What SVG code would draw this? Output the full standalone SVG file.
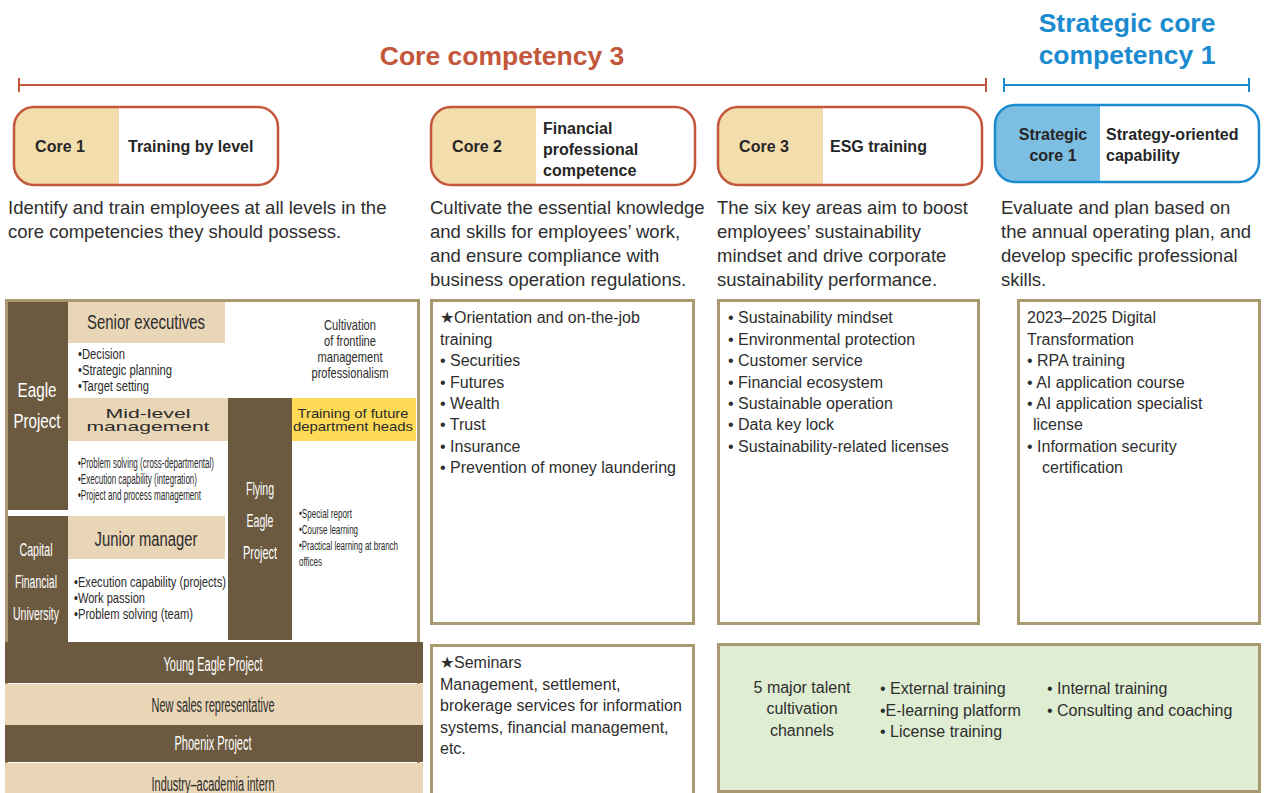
<svg xmlns="http://www.w3.org/2000/svg" width="1264" height="793" viewBox="0 0 1264 793">
  <style>
    text { font-family: "Liberation Sans", Arial, sans-serif; fill: #2b2b2b; }
    .title-red { font-size: 26.5px; font-weight: bold; fill: #C2573B; }
    .title-blue { font-size: 26.5px; font-weight: bold; fill: #1B8BD0; }
    .pill-txt { font-size: 16px; font-weight: bold; fill: #262626; }
    .desc { font-size: 18.5px; fill: #2e2e2e; }
    .list { font-size: 16px; }
    .list text { fill: #2e2e2e; }
    .box { fill: #fff; stroke: #A89A6E; stroke-width: 3; }
    .dark { fill: #6B5A40; }
    .tan { fill: #E9D6B7; }
    text.wt, .wt text { fill: #fff; }
  </style>

  <!-- headings and range brackets -->
  <g id="heading-core">
    <text class="title-red" x="502" y="65" text-anchor="middle">Core competency 3</text>
    <g stroke="#C2573B" stroke-width="2">
      <line x1="19" y1="85" x2="986" y2="85"/>
      <line x1="19" y1="78" x2="19" y2="92"/>
      <line x1="986" y1="78" x2="986" y2="92"/>
    </g>
  </g>
  <g id="heading-strategic">
    <text class="title-blue" x="1127" y="32" text-anchor="middle">Strategic core</text>
    <text class="title-blue" x="1127" y="64" text-anchor="middle">competency 1</text>
    <g stroke="#1B8BD0" stroke-width="2">
      <line x1="1004" y1="85" x2="1249" y2="85"/>
      <line x1="1004" y1="78" x2="1004" y2="92"/>
      <line x1="1249" y1="78" x2="1249" y2="92"/>
    </g>
  </g>

  <defs>
    <clipPath id="c1"><rect x="14" y="107" width="264" height="78" rx="20"/></clipPath>
    <clipPath id="c2"><rect x="431" y="107" width="264" height="78" rx="20"/></clipPath>
    <clipPath id="c3"><rect x="718" y="107" width="264" height="78" rx="20"/></clipPath>
    <clipPath id="c4"><rect x="995" y="105" width="264" height="77" rx="20"/></clipPath>
  </defs>

  <!-- category pills -->
  <g id="pill-core1">
    <rect x="14" y="107" width="264" height="78" rx="20" fill="#fff"/>
    <rect x="14" y="107" width="105" height="78" fill="#F4DDAD" clip-path="url(#c1)"/>
    <rect x="14" y="107" width="264" height="78" rx="20" fill="none" stroke="#C2573B" stroke-width="2.5"/>
    <text class="pill-txt" x="60" y="152" text-anchor="middle">Core 1</text>
    <text class="pill-txt" x="128" y="152">Training by level</text>
  </g>
  <g id="pill-core2">
    <rect x="431" y="107" width="264" height="78" rx="20" fill="#fff"/>
    <rect x="431" y="107" width="105" height="78" fill="#F4DDAD" clip-path="url(#c2)"/>
    <rect x="431" y="107" width="264" height="78" rx="20" fill="none" stroke="#C2573B" stroke-width="2.5"/>
    <text class="pill-txt" x="477" y="152" text-anchor="middle">Core 2</text>
    <text class="pill-txt" x="543" y="134">Financial</text>
    <text class="pill-txt" x="543" y="155">professional</text>
    <text class="pill-txt" x="543" y="176">competence</text>
  </g>
  <g id="pill-core3">
    <rect x="718" y="107" width="264" height="78" rx="20" fill="#fff"/>
    <rect x="718" y="107" width="105" height="78" fill="#F4DDAD" clip-path="url(#c3)"/>
    <rect x="718" y="107" width="264" height="78" rx="20" fill="none" stroke="#C2573B" stroke-width="2.5"/>
    <text class="pill-txt" x="764" y="152" text-anchor="middle">Core 3</text>
    <text class="pill-txt" x="830" y="152">ESG training</text>
  </g>
  <g id="pill-strategic1">
    <rect x="995" y="105" width="264" height="77" rx="20" fill="#fff"/>
    <rect x="995" y="105" width="105" height="77" fill="#7DBFE3" clip-path="url(#c4)"/>
    <rect x="995" y="105" width="264" height="77" rx="20" fill="none" stroke="#1B8BD0" stroke-width="2.5"/>
    <text class="pill-txt" x="1053" y="140" text-anchor="middle">Strategic</text>
    <text class="pill-txt" x="1053" y="161" text-anchor="middle">core 1</text>
    <text class="pill-txt" x="1106" y="140">Strategy-oriented</text>
    <text class="pill-txt" x="1106" y="161">capability</text>
  </g>

  <!-- descriptions -->
  <g id="desc-core1">
    <text class="desc" x="8" y="214">Identify and train employees at all levels in the</text>
    <text class="desc" x="8" y="238">core competencies they should possess.</text>
  </g>
  <g id="desc-core2">
    <text class="desc" x="430" y="214">Cultivate the essential knowledge</text>
    <text class="desc" x="430" y="238">and skills for employees’ work,</text>
    <text class="desc" x="430" y="262">and ensure compliance with</text>
    <text class="desc" x="430" y="286">business operation regulations.</text>
  </g>
  <g id="desc-core3">
    <text class="desc" x="717" y="214">The six key areas aim to boost</text>
    <text class="desc" x="717" y="238">employees’ sustainability</text>
    <text class="desc" x="717" y="262">mindset and drive corporate</text>
    <text class="desc" x="717" y="286">sustainability performance.</text>
  </g>
  <g id="desc-strategic1">
    <text class="desc" x="1001" y="214">Evaluate and plan based on</text>
    <text class="desc" x="1001" y="238">the annual operating plan, and</text>
    <text class="desc" x="1001" y="262">develop specific professional</text>
    <text class="desc" x="1001" y="286">skills.</text>
  </g>

  <!-- level training panel (condensed lettering via textLength) -->
  <g id="level-panel">
    <rect class="box" x="6.5" y="300.5" width="412" height="500"/>

    <g id="eagle-project">
      <rect class="dark" x="8" y="302" width="60" height="208"/>
      <text class="wt" x="37" y="397" font-size="20" text-anchor="middle" textLength="39" lengthAdjust="spacingAndGlyphs">Eagle</text>
      <text class="wt" x="37" y="428" font-size="20" text-anchor="middle" textLength="47" lengthAdjust="spacingAndGlyphs">Project</text>
    </g>

    <g id="senior-executives">
      <rect class="tan" x="68" y="302" width="157" height="41"/>
      <text x="146" y="329" font-size="20" text-anchor="middle" textLength="118" lengthAdjust="spacingAndGlyphs">Senior executives</text>
      <g font-size="14">
        <text x="78" y="359" textLength="47" lengthAdjust="spacingAndGlyphs">•Decision</text>
        <text x="78" y="375" textLength="94" lengthAdjust="spacingAndGlyphs">•Strategic planning</text>
        <text x="78" y="391" textLength="71" lengthAdjust="spacingAndGlyphs">•Target setting</text>
      </g>
    </g>

    <g id="frontline-note" font-size="14.5" text-anchor="middle">
      <text x="350" y="330" textLength="52" lengthAdjust="spacingAndGlyphs">Cultivation</text>
      <text x="350" y="346" textLength="52" lengthAdjust="spacingAndGlyphs">of frontline</text>
      <text x="350" y="362" textLength="65" lengthAdjust="spacingAndGlyphs">management</text>
      <text x="350" y="378" textLength="77" lengthAdjust="spacingAndGlyphs">professionalism</text>
    </g>

    <g id="mid-level">
      <rect class="tan" x="68" y="398" width="160" height="43"/>
      <text x="148" y="418" font-size="13.5" text-anchor="middle" textLength="85" lengthAdjust="spacingAndGlyphs">Mid-level</text>
      <text x="148" y="431" font-size="13.5" text-anchor="middle" textLength="123" lengthAdjust="spacingAndGlyphs">management</text>
      <g font-size="14">
        <text x="78" y="468" textLength="136" lengthAdjust="spacingAndGlyphs">•Problem solving (cross-departmental)</text>
        <text x="78" y="484" textLength="119" lengthAdjust="spacingAndGlyphs">•Execution capability (integration)</text>
        <text x="78" y="500" textLength="123" lengthAdjust="spacingAndGlyphs">•Project and process management</text>
      </g>
    </g>

    <g id="flying-eagle">
      <rect class="dark" x="228" y="398" width="64" height="242"/>
      <g class="wt" font-size="18.5" text-anchor="middle">
        <text x="260" y="495" textLength="28" lengthAdjust="spacingAndGlyphs">Flying</text>
        <text x="260" y="527" textLength="27" lengthAdjust="spacingAndGlyphs">Eagle</text>
        <text x="260" y="559" textLength="34" lengthAdjust="spacingAndGlyphs">Project</text>
      </g>
      <rect x="292" y="398" width="124" height="43" fill="#FFDA57"/>
      <text x="353" y="418" font-size="13" text-anchor="middle" textLength="111" lengthAdjust="spacingAndGlyphs">Training of future</text>
      <text x="353" y="431" font-size="13" text-anchor="middle" textLength="120" lengthAdjust="spacingAndGlyphs">department heads</text>
      <g font-size="13">
        <text x="299" y="518" textLength="53" lengthAdjust="spacingAndGlyphs">•Special report</text>
        <text x="299" y="534" textLength="59" lengthAdjust="spacingAndGlyphs">•Course learning</text>
        <text x="299" y="550" textLength="99" lengthAdjust="spacingAndGlyphs">•Practical learning at branch</text>
        <text x="299" y="566" textLength="23" lengthAdjust="spacingAndGlyphs">offices</text>
      </g>
    </g>

    <g id="capital-financial-university">
      <rect class="dark" x="8" y="516" width="60" height="127"/>
      <g class="wt" font-size="18" text-anchor="middle">
        <text x="36" y="556" textLength="33" lengthAdjust="spacingAndGlyphs">Capital</text>
        <text x="36" y="588" textLength="42" lengthAdjust="spacingAndGlyphs">Financial</text>
        <text x="36" y="620" textLength="46" lengthAdjust="spacingAndGlyphs">University</text>
      </g>
      <rect class="tan" x="68" y="516" width="157" height="43"/>
      <text x="146" y="546" font-size="20" text-anchor="middle" textLength="103" lengthAdjust="spacingAndGlyphs">Junior manager</text>
      <g font-size="15">
        <text x="74" y="587" textLength="152" lengthAdjust="spacingAndGlyphs">•Execution capability (projects)</text>
        <text x="74" y="603" textLength="71" lengthAdjust="spacingAndGlyphs">•Work passion</text>
        <text x="74" y="619" textLength="119" lengthAdjust="spacingAndGlyphs">•Problem solving (team)</text>
      </g>
    </g>

    <g id="young-eagle">
      <rect class="dark" x="5" y="642" width="418" height="41"/>
      <text class="wt" x="213" y="671" font-size="20" text-anchor="middle" textLength="99" lengthAdjust="spacingAndGlyphs">Young Eagle Project</text>
    </g>
    <g id="new-sales">
      <rect class="tan" x="5" y="684" width="418" height="41"/>
      <text x="213" y="712" font-size="20" text-anchor="middle" textLength="123" lengthAdjust="spacingAndGlyphs">New sales representative</text>
    </g>
    <g id="phoenix">
      <rect class="dark" x="5" y="725" width="418" height="37"/>
      <text class="wt" x="213" y="750" font-size="20" text-anchor="middle" textLength="77" lengthAdjust="spacingAndGlyphs">Phoenix Project</text>
    </g>
    <g id="intern">
      <rect class="tan" x="5" y="763" width="418" height="40"/>
      <text x="213" y="791" font-size="20" text-anchor="middle" textLength="123" lengthAdjust="spacingAndGlyphs">Industry–academia intern</text>
    </g>
  </g>

  <!-- course list boxes -->
  <g id="list-core2">
    <rect class="box" x="431.5" y="300.5" width="262" height="323"/>
    <g class="list">
      <text x="440" y="323">★Orientation and on-the-job</text>
      <text x="440" y="345">training</text>
      <text x="440" y="366">• Securities</text>
      <text x="440" y="388">• Futures</text>
      <text x="440" y="409">• Wealth</text>
      <text x="440" y="430">• Trust</text>
      <text x="440" y="452">• Insurance</text>
      <text x="440" y="473">• Prevention of money laundering</text>
    </g>
  </g>
  <g id="list-core3">
    <rect class="box" x="718.5" y="300.5" width="260" height="323"/>
    <g class="list">
      <text x="728" y="323">• Sustainability mindset</text>
      <text x="728" y="345">• Environmental protection</text>
      <text x="728" y="366">• Customer service</text>
      <text x="728" y="388">• Financial ecosystem</text>
      <text x="728" y="409">• Sustainable operation</text>
      <text x="728" y="430">• Data key lock</text>
      <text x="728" y="452">• Sustainability-related licenses</text>
    </g>
  </g>
  <g id="list-strategic1">
    <rect class="box" x="1018.5" y="300.5" width="241" height="323"/>
    <g class="list">
      <text x="1027" y="323">2023–2025 Digital</text>
      <text x="1027" y="345">Transformation</text>
      <text x="1027" y="366">• RPA training</text>
      <text x="1027" y="388">• AI application course</text>
      <text x="1027" y="409">• AI application specialist</text>
      <text x="1033" y="430">license</text>
      <text x="1027" y="452">• Information security</text>
      <text x="1042" y="473">certification</text>
    </g>
  </g>
  <g id="seminars">
    <rect class="box" x="431.5" y="645.5" width="262" height="160"/>
    <g class="list">
      <text x="440" y="668">★Seminars</text>
      <text x="440" y="690">Management, settlement,</text>
      <text x="440" y="711">brokerage services for information</text>
      <text x="440" y="733">systems, financial management,</text>
      <text x="440" y="754">etc.</text>
    </g>
  </g>
  <g id="channels">
    <rect x="718.5" y="644.5" width="541" height="147" fill="#DFEDD3" stroke="#A89A6E" stroke-width="3"/>
    <g class="list">
      <text x="802" y="693" text-anchor="middle">5 major talent</text>
      <text x="802" y="714" text-anchor="middle">cultivation</text>
      <text x="802" y="736" text-anchor="middle">channels</text>
      <text x="880" y="694">• External training</text>
      <text x="880" y="716">•E-learning platform</text>
      <text x="880" y="737">• License training</text>
      <text x="1047" y="694">• Internal training</text>
      <text x="1047" y="716">• Consulting and coaching</text>
    </g>
  </g>
</svg>
